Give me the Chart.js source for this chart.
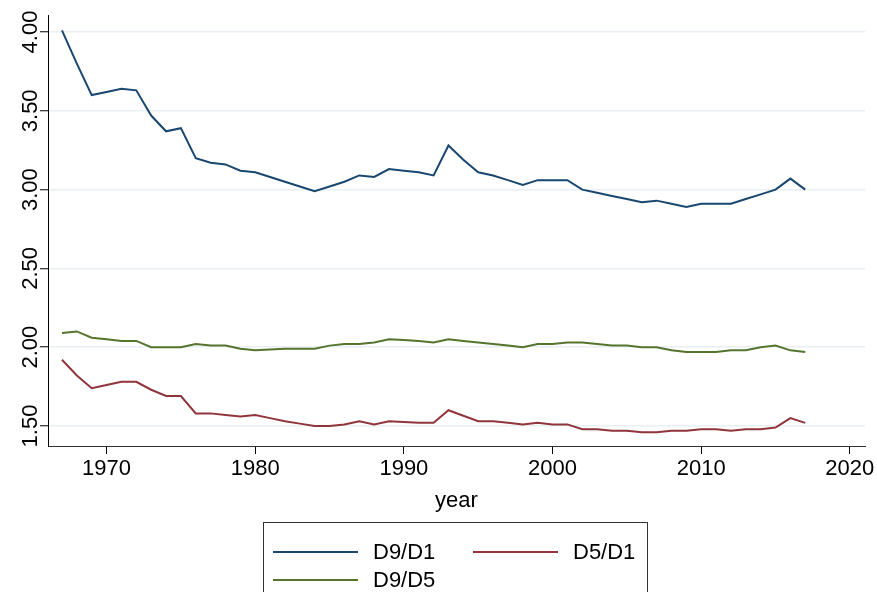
<!DOCTYPE html>
<html>
<head>
<meta charset="utf-8">
<title>Income ratios</title>
<script src="https://cdn.jsdelivr.net/npm/chart.js@4.4.1/dist/chart.umd.min.js"></script>
<style>
    body { margin: 0; background: #fff; font-family: "Liberation Sans", Arial, sans-serif; }
    #wrap { position: relative; width: 877px; height: 592px; overflow: hidden; }
    #legend {
        position: absolute; left: 263px; top: 522px; width: 385px; height: 90px;
        border: 1px solid #333; box-sizing: border-box;
    }
    .item { position: absolute; font-size: 22px; color: #000; line-height: 26px; }
    .item .swatch { position: absolute; left: 0; top: 12px; width: 85px; height: 2px; }
    .item span { position: absolute; left: 100px; top: 0; white-space: nowrap; }
</style>
</head>
<body>
<div id="wrap">
    <canvas id="ratioChart" width="877" height="592"></canvas>
    <div id="legend"></div>
</div>
<script>
// --- 1. DATA ---
const years = [
    1967, 1968, 1969, 1970, 1971, 1972, 1973, 1974, 1975, 1976,
    1977, 1978, 1979, 1980, 1981, 1982, 1983, 1984, 1985, 1986,
    1987, 1988, 1989, 1990, 1991, 1992, 1993, 1994, 1995, 1996,
    1997, 1998, 1999, 2000, 2001, 2002, 2003, 2004, 2005, 2006,
    2007, 2008, 2009, 2010, 2011, 2012, 2013, 2014, 2015, 2016, 2017
];
const d9d1 = [
    4.01, 3.80, 3.60, 3.62, 3.64, 3.63, 3.47, 3.37, 3.39, 3.20,
    3.17, 3.16, 3.12, 3.11, 3.08, 3.05, 3.02, 2.99, 3.02, 3.05,
    3.09, 3.08, 3.13, 3.12, 3.11, 3.09, 3.28, 3.19, 3.11, 3.09,
    3.06, 3.03, 3.06, 3.06, 3.06, 3.00, 2.98, 2.96, 2.94, 2.92,
    2.93, 2.91, 2.89, 2.91, 2.91, 2.91, 2.94, 2.97, 3.00, 3.07, 3.00
];
const d5d1 = [
    1.92, 1.82, 1.74, 1.76, 1.78, 1.78, 1.73, 1.69, 1.69, 1.58,
    1.58, 1.57, 1.56, 1.57, 1.55, 1.53, 1.515, 1.50, 1.50, 1.51,
    1.53, 1.51, 1.53, 1.525, 1.52, 1.52, 1.60, 1.565, 1.53, 1.53,
    1.52, 1.51, 1.52, 1.51, 1.51, 1.48, 1.48, 1.47, 1.47, 1.46,
    1.46, 1.47, 1.47, 1.48, 1.48, 1.47, 1.48, 1.48, 1.49, 1.55, 1.52
];
const d9d5 = [
    2.09, 2.10, 2.06, 2.05, 2.04, 2.04, 2.00, 2.00, 2.00, 2.02,
    2.01, 2.01, 1.99, 1.98, 1.985, 1.99, 1.99, 1.99, 2.01, 2.02,
    2.02, 2.03, 2.05, 2.045, 2.04, 2.03, 2.05, 2.04, 2.03, 2.02,
    2.01, 2.00, 2.02, 2.02, 2.03, 2.03, 2.02, 2.01, 2.01, 2.00,
    2.00, 1.98, 1.97, 1.97, 1.97, 1.98, 1.98, 2.00, 2.01, 1.98, 1.97
];
const xTicks = [1970, 1980, 1990, 2000, 2010, 2020];
const yTicks = [1.5, 2.0, 2.5, 3.0, 3.5, 4.0];

const seriesNames = ["D9/D1", "D5/D1", "D9/D5"];
const seriesColors = ["#1a476f", "#90353b", "#55752f"];
const FONT = "'Liberation Sans', Arial, sans-serif";

// --- 2. Helpers ---
function toPoints(values) {
    return years.map((yr, i) => ({ x: yr, y: values[i] }));
}

// y labels in Stata are turned on their side, so draw them here
const rotatedYLabels = {
    id: 'rotatedYLabels',
    afterDraw(chart) {
        const ctx = chart.ctx;
        const scale = chart.scales.y;
        ctx.save();
        ctx.fillStyle = '#000';
        ctx.font = `22px ${FONT}`;
        ctx.textAlign = 'center';
        ctx.textBaseline = 'alphabetic';
        yTicks.forEach(v => {
            const py = scale.getPixelForValue(v);
            ctx.save();
            ctx.translate(37, py);
            ctx.rotate(-Math.PI / 2);
            ctx.fillText(v.toFixed(2), 0, 0);
            ctx.restore();
        });
        ctx.restore();
    }
};

// --- 3. Chart ---
const ctx = document.getElementById('ratioChart').getContext('2d');
const datasets = [d9d1, d5d1, d9d5].map((vals, i) => ({
    label: seriesNames[i],
    data: toPoints(vals),
    borderColor: seriesColors[i],
    borderWidth: 2,
    pointRadius: 0,
    tension: 0,
    fill: false
}));

const chart = new Chart(ctx, {
    type: 'line',
    data: { datasets: datasets },
    options: {
        responsive: false,
        animation: false,
        layout: { padding: { left: 0, right: 12, top: 15, bottom: 78 } },
        plugins: {
            legend: { display: false },
            tooltip: { enabled: false }
        },
        scales: {
            x: {
                type: 'linear',
                min: 1966.06,
                max: 2021.02,
                afterBuildTicks: (scale) => { scale.ticks = xTicks.map(v => ({ value: v })); },
                afterFit: (scale) => { scale.height = 68; },
                ticks: {
                    color: '#000',
                    font: { family: FONT, size: 22 },
                    padding: 2,
                    maxRotation: 0,
                    autoSkip: false,
                    callback: (v) => String(v)
                },
                grid: { drawOnChartArea: false, tickLength: 8, tickColor: '#000', tickWidth: 1 },
                border: { color: '#333', width: 1 },
                title: {
                    display: true,
                    text: 'year',
                    color: '#000',
                    font: { family: FONT, size: 22 },
                    padding: 0
                }
            },
            y: {
                type: 'linear',
                min: 1.373,
                max: 4.108,
                afterBuildTicks: (scale) => { scale.ticks = yTicks.map(v => ({ value: v })); },
                afterFit: (scale) => { scale.width = 48; },
                ticks: { display: false },
                grid: {
                    color: '#e9eff2',
                    lineWidth: 1.5,
                    tickLength: 8,
                    tickColor: '#000',
                    tickWidth: 1
                },
                border: { color: '#000', width: 1 }
            }
        }
    },
    plugins: [rotatedYLabels]
});

// --- 4. Legend (Stata style box, two columns) ---
const legendBox = document.getElementById('legend');
const slots = [
    { left: 9, top: 16 },
    { left: 209, top: 16 },
    { left: 9, top: 44 }
];
chart.data.datasets.forEach((ds, i) => {
    const item = document.createElement('div');
    item.className = 'item';
    item.style.left = slots[i].left + 'px';
    item.style.top = slots[i].top + 'px';
    item.innerHTML = `<div class="swatch" style="background:${ds.borderColor}"></div><span>${ds.label}</span>`;
    legendBox.appendChild(item);
});
</script>
</body>
</html>
